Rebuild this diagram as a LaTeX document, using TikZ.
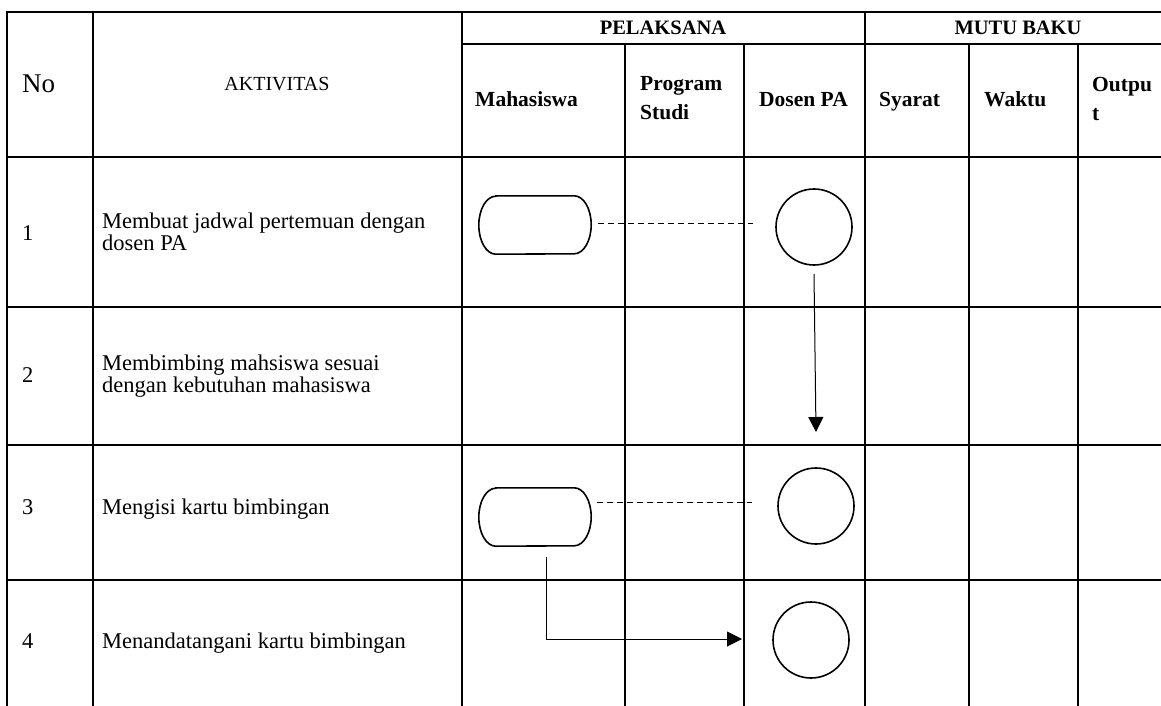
\documentclass[tikz,border=0pt]{standalone}
\usepackage{fontspec}
\setmainfont{Liberation Serif}
\usetikzlibrary{arrows.meta,calc}
\newcommand\stadiumshape[1]{\draw[shapeline] ([xshift=17pt]#1.north west) -- ([xshift=-17pt]#1.north east) arc[start angle=90,end angle=-90,x radius=17pt,y radius=29pt] -- ([xshift=17pt]#1.south west) arc[start angle=270,end angle=90,x radius=17pt,y radius=29pt] -- cycle;}
\begin{document}
\begin{tikzpicture}[x=1pt,y=1pt,
  grid/.style={line width=2pt, line cap=rect},
  top/.style={font=\fontsize{20.5}{22}\selectfont\bfseries, inner sep=0pt},
  hd/.style={font=\fontsize{21.5}{29}\selectfont\bfseries, inner sep=0pt, align=left},
  txt/.style={font=\fontsize{22.5}{22}\selectfont, inner sep=0pt, align=left},
  term/.style={minimum width=112pt, minimum height=58pt, inner sep=0pt},
  shapeline/.style={line width=1.6pt},
  circ/.style={circle, draw, line width=1.6pt, minimum size=76pt, inner sep=0pt},
  dashline/.style={line width=1pt, dash pattern=on 6pt off 4pt},
  arr/.style={line width=1pt, -{Triangle[length=15pt,width=15pt]}}
]
\useasboundingbox (0,0) rectangle (1161,-706);
\clip (0,0) rectangle (1161,-706);
% table grid
\draw[grid] (7,-12) -- (1185,-12);
\draw[grid] (462,-44) -- (1185,-44);
\foreach \y in {157,307,445,580} \draw[grid] (7,-\y) -- (1185,-\y);
\foreach \x in {7,93,462,865} \draw[grid] (\x,-12) -- (\x,-720);
\foreach \x in {625,744,969,1078} \draw[grid] (\x,-44) -- (\x,-720);
% header texts
\node[inner sep=0pt, anchor=west, font=\fontsize{27}{30}\selectfont] (no) at (22,-84) {No};
\node[font=\fontsize{20}{22}\selectfont, inner sep=0pt] (akt) at (277,-84) {AKTIVITAS};
\node[top] (pel) at (663,-28) {PELAKSANA};
\node[top] (mutu) at (1018,-28) {MUTU BAKU};
\node[hd, anchor=base west] (mhs) at (475,-107) {Mahasiswa};
\node[hd, anchor=west] (ps) at (640,-98.5) {Program\\Studi};
\node[hd, anchor=base west] (dpa) at (759,-107) {Dosen PA};
\node[hd, anchor=base west] (sy) at (879,-107) {Syarat};
\node[hd, anchor=base west] (wk) at (984,-107) {Waktu};
\node[hd, anchor=west] (out) at (1092,-98.5) {Outpu\\t};
% row texts
\node[txt, anchor=base west] (n1) at (22,-240) {1};
\node[txt, anchor=base west] (n2) at (22,-382) {2};
\node[txt, anchor=base west] (n3) at (22,-514) {3};
\node[txt, anchor=base west] (n4) at (22,-648) {4};
\node[txt, anchor=west] (act1) at (102,-231.5) {Membuat jadwal pertemuan dengan\\dosen PA};
\node[txt, anchor=west] (act2) at (102,-376) {Membimbing mahsiswa sesuai\\dengan kebutuhan mahasiswa};
\node[txt, anchor=base west] (act3) at (102,-514) {Mengisi kartu bimbingan};
\node[txt, anchor=base west] (act4) at (102,-648) {Menandatangani kartu bimbingan};
% flow shapes
\node[term] (t1) at (535,-225) {};
\stadiumshape{t1}
\node[term] (t3) at (535,-517) {};
\stadiumshape{t3}
\node[circ] (c1) at (814,-227) {};
\node[circ] (c3) at (816,-506) {};
\node[circ] (c4) at (811,-640) {};
% connectors
\draw[dashline] ([shift={(7pt,2pt)}]t1.east) -- ([shift={(-22pt,4pt)}]c1.west);
\draw[dashline] ([shift={(6pt,15pt)}]t3.east) -- ([shift={(-25pt,4pt)}]c3.west);
\coordinate (a1) at (816,-432);
\draw[arr] ([yshift=-8pt]c1.south) -- (a1);
\coordinate (a4) at (742,-639);
\draw[arr] ([shift={(11pt,-11pt)}]t3.south) |- (a4);
\end{tikzpicture}
\end{document}
